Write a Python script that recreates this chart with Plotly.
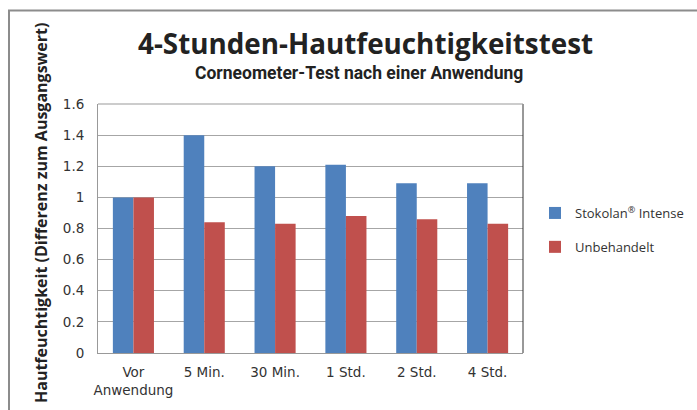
import plotly.graph_objects as go

categories = ["Vor<br>Anwendung", "5 Min.", "30 Min.", "1 Std.", "2 Std.", "4 Std."]
stokolan = [1.0, 1.40, 1.20, 1.21, 1.09, 1.09]
unbehandelt = [1.0, 0.84, 0.83, 0.88, 0.86, 0.83]
series_names = ["Stokolan<sup>®</sup> Intense", "Unbehandelt"]
y_ticks = [0, 0.2, 0.4, 0.6, 0.8, 1, 1.2, 1.4, 1.6]
y_ticklabels = ["0", "0.2", "0.4", "0.6", "0.8", "1", "1.2", "1.4", "1.6"]

W, H = 697, 410
L, R, T, B = 98, 174, 104, 57
pw, ph = W - L - R, H - T - B

def px(x):
    return (x - L) / pw

def py(y):
    return (H - B - y) / ph

fig = go.Figure()
fig.add_trace(go.Bar(x=categories, y=stokolan, name=series_names[0],
                     marker=dict(color="#4F81BD", line=dict(width=0)), legendgroup="a"))
fig.add_trace(go.Bar(x=categories, y=unbehandelt, name=series_names[1],
                     marker=dict(color="#C0504D", line=dict(width=0)), legendgroup="b"))

tick_font = dict(family="DejaVu Sans", size=13.5, color="#333333")

fig.update_layout(
    width=W, height=H,
    margin=dict(l=L, r=R, t=T, b=B, autoexpand=False),
    paper_bgcolor="white", plot_bgcolor="white",
    barmode="group", bargap=0.42, bargroupgap=0,
    showlegend=True,
    legend=dict(x=px(535), y=py(198), xanchor="left", yanchor="top",
                font=dict(family="Open Sans", size=13, color="#333333"),
                traceorder="grouped", tracegroupgap=14, itemwidth=30,
                bgcolor="rgba(0,0,0,0)"),
    xaxis=dict(tickfont=tick_font, showline=True, linecolor="#999999", linewidth=1,
               ticks="", showgrid=False, range=[-0.5, 5.5], ticklabelstandoff=7),
    yaxis=dict(range=[0, 1.6], tickvals=y_ticks, ticktext=y_ticklabels, tickfont=tick_font,
               showgrid=True, gridcolor="#a6a6a6", gridwidth=1, zeroline=False,
               showline=True, linecolor="#999999", linewidth=1, ticks="",
               ticklabelstandoff=10),
    annotations=[
        dict(text="<b>4-Stunden-Hautfeuchtigkeitstest</b>", xref="paper", yref="paper",
             x=px(365), y=py(43), xanchor="center", yanchor="middle",
             showarrow=False, font=dict(family="Open Sans", size=27.8, color="#222222")),
        dict(text="<b>Corneometer-Test nach einer Anwendung</b>", xref="paper", yref="paper",
             x=px(359), y=py(73), xanchor="center", yanchor="middle",
             showarrow=False, font=dict(family="Roboto", size=17.5, color="#222222")),
        dict(text="<b>Hautfeuchtigkeit (Differenz zum Ausgangswert)</b>", xref="paper", yref="paper",
             x=px(41), y=py(213), xanchor="center", yanchor="middle",
             textangle=-90, showarrow=False,
             font=dict(family="Open Sans", size=16, color="#222222")),
    ],
    shapes=[
        dict(type="line", xref="paper", yref="paper", x0=1, x1=1, y0=0, y1=1,
             line=dict(color="#333333", width=1)),
        dict(type="line", xref="paper", yref="paper", x0=0, x1=1, y0=1, y1=1,
             line=dict(color="#999999", width=1)),
        dict(type="line", xref="paper", yref="paper", x0=px(8), x1=px(W),
             y0=py(10.5), y1=py(10.5), line=dict(color="#8c8c8c", width=2)),
        dict(type="line", xref="paper", yref="paper", x0=px(9), x1=px(9),
             y0=py(10), y1=py(H), line=dict(color="#8c8c8c", width=2)),
    ],
)

fig.write_html("out.html", config={"displayModeBar": False})

with open("out.html", "r", encoding="utf-8") as f:
    html = f.read()
html = html.replace("<head>", "<head><style>html,body{margin:0;padding:0;overflow:hidden;}</style>", 1)
with open("out.html", "w", encoding="utf-8") as f:
    f.write(html)
